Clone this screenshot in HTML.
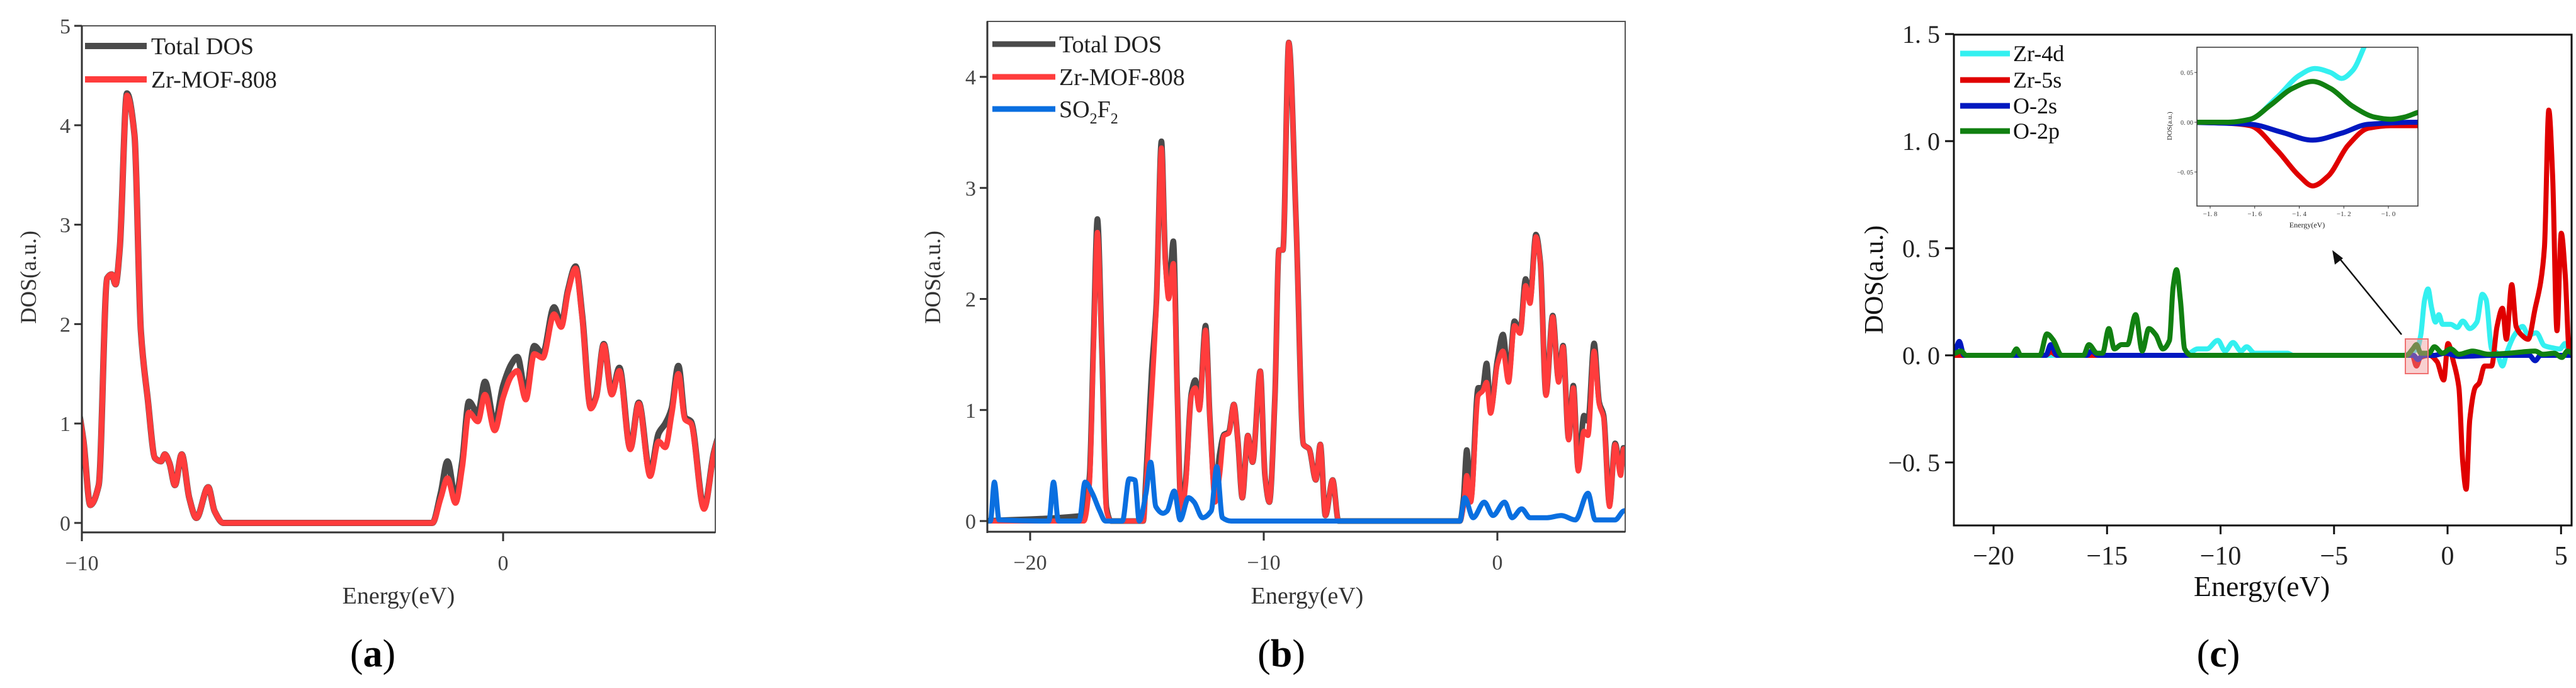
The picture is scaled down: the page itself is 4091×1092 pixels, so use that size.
<!DOCTYPE html>
<html><head><meta charset="utf-8"><style>
html,body{margin:0;padding:0;background:#fff;}
svg{display:block;font-family:"Liberation Serif",serif;}
</style></head><body>
<svg id="fig" width="4091" height="1092" viewBox="0 0 4091 1092" xmlns="http://www.w3.org/2000/svg"></svg>
<script>
// ---------- Panel (a) data ----------
const aEnergy=[-10.1,-9.96,-9.8,-9.6,-9.4,-9.29,-9.2,-9.1,-8.93,-8.75,-8.6,-8.44,-8.26,-8.12,-8.03,-7.92,-7.79,-7.63,-7.45,-7.28,-7.0,-6.85,-6.64,-4,-1.68,-1.48,-1.32,-1.13,-0.97,-0.81,-0.6,-0.43,-0.2,0,0.2,0.34,0.54,0.74,0.94,1.21,1.38,1.54,1.72,1.88,2.08,2.21,2.39,2.58,2.76,3.02,3.22,3.49,3.69,3.85,4.0,4.16,4.32,4.46,4.77,5.0,5.2];
const aZr=[1.2,0.82,0.18,0.38,2.46,2.5,2.4,2.76,4.3,3.9,1.93,1.26,0.65,0.62,0.69,0.6,0.38,0.69,0.25,0.05,0.36,0.12,0,0,0,0.25,0.45,0.2,0.56,1.11,1.02,1.29,0.93,1.26,1.48,1.53,1.24,1.7,1.66,2.1,1.97,2.32,2.56,2.06,1.15,1.26,1.79,1.29,1.53,0.74,1.2,0.47,0.82,0.76,1.09,1.5,1.04,1.0,0.14,0.69,1.0];
const aTotal=[1.2,0.82,0.18,0.38,2.46,2.5,2.4,2.76,4.32,3.9,1.93,1.26,0.65,0.62,0.69,0.6,0.38,0.69,0.25,0.05,0.36,0.12,0,0,0,0.3,0.62,0.25,0.62,1.22,1.1,1.42,1.0,1.38,1.6,1.67,1.3,1.78,1.7,2.17,2.0,2.34,2.58,2.08,1.16,1.27,1.8,1.3,1.56,0.75,1.21,0.5,0.9,1.0,1.15,1.58,1.06,1.02,0.15,0.7,1.0];
const aXTicks=[-10,0];
const aYTicks=[0,1,2,3,4,5];
// ---------- Panel (b) data ----------
const bEnergy=[-22,-17.7,-17.46,-17.29,-17.12,-16.93,-16.73,-16.54,-15.16,-15.04,-14.8,-14.6,-14.38,-14.21,-14.07,-13.87,-13.7,-13.53,-13.34,-13.1,-12.93,-12.76,-12.49,-12.3,-12.08,-11.89,-11.7,-11.5,-11.28,-11.11,-10.92,-10.68,-10.48,-10.15,-9.95,-9.76,-9.52,-9.35,-9.18,-8.93,-8.62,-8.3,-8.06,-7.77,-7.58,-7.36,-7.05,-6.8,-4,-1.6,-1.45,-1.31,-1.14,-0.82,-0.63,-0.46,-0.29,0,0.24,0.48,0.73,0.97,1.21,1.4,1.65,1.84,2.08,2.37,2.62,2.81,3.05,3.25,3.46,3.71,3.88,4.14,4.36,4.55,4.8,5.04,5.28,5.4,5.6];
const bZr=[0,0,0.33,1.53,2.6,1.53,0.09,0,0,0.33,1.13,1.92,3.36,2.32,2.0,2.32,1.13,0.05,0.33,1.13,1.2,1.0,1.72,0.89,0.17,0.41,0.77,0.79,1.05,0.73,0.21,0.77,0.53,1.35,0.41,0.17,1.13,2.44,2.44,4.31,2.72,0.69,0.65,0.37,0.69,0.05,0.37,0,0,0,0.13,0.41,0.17,1.13,1.17,1.25,0.97,1.41,1.53,1.25,1.76,1.69,2.12,1.96,2.56,2.32,1.13,1.84,1.25,1.57,0.73,1.2,0.45,0.81,0.77,1.53,1.05,0.93,0.13,0.69,0.41,0.65,0.6];
const bTotal=[0,0.05,0.4,1.6,2.72,1.55,0.12,0,0,0.4,1.35,1.95,3.42,2.35,2.05,2.52,1.15,0.08,0.38,1.15,1.27,1.02,1.76,0.9,0.25,0.6,0.78,0.8,1.05,0.73,0.21,0.77,0.53,1.35,0.41,0.17,1.13,2.44,2.44,4.31,2.72,0.69,0.65,0.37,0.69,0.05,0.37,0,0,0,0.2,0.64,0.2,1.2,1.2,1.42,1.0,1.45,1.68,1.3,1.8,1.7,2.18,2.0,2.58,2.33,1.14,1.85,1.27,1.58,0.74,1.22,0.47,0.95,0.9,1.6,1.07,0.95,0.15,0.7,0.45,0.66,0.6];
const bSoEnergy=[-22,-21.7,-21.53,-21.33,-19.2,-19.0,-18.79,-17.9,-17.65,-17.34,-17.02,-16.78,-16.05,-15.76,-15.52,-15.33,-15.04,-14.84,-14.62,-14.31,-14.14,-13.83,-13.58,-13.22,-12.98,-12.62,-12.25,-12.01,-11.77,-11.4,-4,-1.6,-1.4,-1.04,-0.56,-0.19,0.31,0.63,1.04,1.4,2.13,2.74,3.34,3.88,4.19,5.04,5.4,5.6];
const bSo=[0,0,0.35,0.01,0,0.35,0,0,0.35,0.25,0.09,0,0,0.38,0.37,0,0.25,0.53,0.13,0.07,0.09,0.27,0.01,0.21,0.17,0.03,0.09,0.49,0.03,0,0,0,0.21,0.03,0.17,0.05,0.17,0.03,0.11,0.03,0.03,0.05,0.01,0.25,0.01,0.01,0.09,0.1];
const bXTicks=[-20,-10,0];
const bYTicks=[0,1,2,3,4];
// ---------- Panel (c) data ----------
const cO2pE=[-22,-21.68,-21.44,-21.2,-19.2,-18.99,-18.8,-17.96,-17.65,-17.36,-17.0,-16.04,-15.8,-15.44,-15.2,-14.92,-14.68,-14.36,-14.1,-13.74,-13.45,-13.16,-12.85,-12.54,-12.25,-12.09,-11.94,-11.77,-11.58,-11.3,-5,-1.82,-1.53,-1.37,-1.18,-0.82,-0.58,-0.22,0.14,0.5,1.1,1.8,2.7,3.86,4.2,4.7,5.04,5.28,5.6];
const cO2p=[0,0.01,0.02,0,0,0.03,0,0,0.1,0.07,0,0,0.05,0.01,0.01,0.125,0.03,0.05,0.05,0.19,0.02,0.125,0.095,0.03,0.07,0.32,0.4,0.26,0.03,0,0,0,0.03,0.05,0.01,0.01,0.04,0.01,0.03,0.005,0.02,0.005,0.01,0.02,0.005,0.01,-0.01,0.02,0.0];
const cZr4dE=[-22,-11.6,-11.37,-11.0,-10.6,-10.12,-9.8,-9.45,-9.1,-8.85,-8.5,-8.0,-7.5,-7.05,-6.8,-2,-1.34,-1.18,-1.01,-0.86,-0.7,-0.53,-0.38,-0.22,0.14,0.43,0.67,0.98,1.29,1.53,1.7,1.94,2.18,2.42,2.6,2.95,3.31,3.55,3.91,4.27,4.63,4.95,5.18,5.37,5.6];
const cZr4d=[0,0,0.01,0.03,0.03,0.07,0.02,0.06,0.02,0.04,0.01,0.01,0.01,0.01,0,0,0.03,0.095,0.26,0.31,0.22,0.155,0.19,0.145,0.145,0.13,0.16,0.125,0.155,0.285,0.26,0.03,0.01,-0.05,0.01,0.095,0.135,0.095,0.105,0.045,0.035,0.03,0.055,0.01,0.01];
const cZr5sE=[-22,-17.7,-17.48,-17.2,-2,-1.55,-1.37,-1.2,-0.8,-0.46,-0.17,0.02,0.26,0.5,0.67,0.82,0.98,1.22,1.39,1.63,1.94,2.18,2.42,2.59,2.83,3.02,3.26,3.55,3.86,4.1,4.27,4.46,4.63,4.82,5.01,5.18,5.37,5.6];
const cZr5s=[0,0,0.016,0,0,0,-0.05,-0.01,0,-0.03,-0.115,0.055,-0.03,-0.15,-0.5,-0.625,-0.3,-0.15,-0.13,-0.05,-0.05,0.135,0.22,0.075,0.33,0.135,0.095,0.075,0.22,0.34,0.505,1.145,0.835,0.115,0.57,0.385,0.01,0];
const cO2sE=[-22,-21.68,-21.51,-21.3,-17.7,-17.48,-17.2,-15.9,-15.68,-15.4,-2,-1.5,-1.3,-1.1,-0.6,-0.1,0.5,2,3.6,3.86,4.1,5.6];
const cO2s=[0.02,0.03,0.065,0,0,0.05,0,0,0.02,0,0,0,-0.02,0,0,0.01,-0.005,0,0,-0.025,0,0];
const cXTicks=[-20,-15,-10,-5,0,5];
const cYTicks=[-0.5,0,0.5,1.0,1.5];
// ---------- Inset data ----------
const iZr4dE=[-1.9,-1.72,-1.62,-1.5,-1.4,-1.33,-1.26,-1.21,-1.16,-1.11,-1.05];
const iZr4d=[0,0,0.003,0.025,0.047,0.054,0.05,0.044,0.052,0.075,0.11];
const iO2pE=[-1.9,-1.72,-1.62,-1.53,-1.43,-1.34,-1.26,-1.16,-1.06,-0.99,-0.93,-0.87,-0.84];
const iO2p=[0,0,0.003,0.017,0.034,0.041,0.034,0.016,0.005,0.003,0.005,0.0097,0.012];
const iO2sE=[-1.9,-1.62,-1.48,-1.34,-1.21,-1.09,-0.87,-0.84];
const iO2s=[0,-0.002,-0.01,-0.018,-0.011,-0.002,0,0];
const iZr5sE=[-1.9,-1.72,-1.62,-1.5,-1.4,-1.34,-1.27,-1.18,-1.09,-0.99,-0.87,-0.84];
const iZr5s=[0,-0.001,-0.0035,-0.028,-0.054,-0.064,-0.054,-0.023,-0.006,-0.0035,-0.0035,-0.0035];
const iXTicks=[-1.8,-1.6,-1.4,-1.2,-1.0];
const iYTicks=[-0.05,0,0.05];

const NS='http://www.w3.org/2000/svg';
const svg=document.getElementById('fig');
function mk(tag,attrs,parent){const e=document.createElementNS(NS,tag);for(const k in attrs)e.setAttribute(k,attrs[k]);(parent||svg).appendChild(e);return e;}
function scale(d0,d1,r0,r1){return v=>r0+(v-d0)*(r1-r0)/(d1-d0);}
// monotone cubic (Fritsch-Carlson) – no overshoot
function smoothPath(xs,ys,sx,sy){
  const X=xs.map(sx),Y=ys.map(sy),n=X.length;
  const d=[],m=[];
  for(let i=0;i<n-1;i++)d.push((Y[i+1]-Y[i])/(X[i+1]-X[i]));
  m[0]=d[0];m[n-1]=d[n-2];
  for(let i=1;i<n-1;i++){ if(d[i-1]*d[i]<=0)m[i]=0; else m[i]=2/(1/d[i-1]+1/d[i]); }
  let p='M'+X[0].toFixed(1)+','+Y[0].toFixed(1);
  for(let i=0;i<n-1;i++){
    const h=(X[i+1]-X[i])/3;
    p+=' C'+(X[i]+h).toFixed(1)+','+(Y[i]+m[i]*h).toFixed(1)+' '+(X[i+1]-h).toFixed(1)+','+(Y[i+1]-m[i+1]*h).toFixed(1)+' '+X[i+1].toFixed(1)+','+Y[i+1].toFixed(1);
  }
  return p;
}
let clipN=0;
function clip(x,y,w,h){const id='clip'+(clipN++);const cp=mk('clipPath',{id:id});mk('rect',{x:x,y:y,width:w,height:h},cp);return id;}

// ===== Panel (a) =====
(function(){
  const L=130,R=1136,T=41,B=845;
  const sx=scale(-10,0,130,799), sy=scale(0,5,830,41);
  const g=mk('g',{});
  
  
  const cid=clip(L,T,R-L,B-T);
  const cg=mk('g',{'clip-path':'url(#'+cid+')'},g);
  const t=mk('path',{d:smoothPath(aEnergy,aTotal,sx,sy),fill:'none',stroke:'#4a4a4a','stroke-width':10,'stroke-linejoin':'round'},cg);
  
  
  const r=mk('path',{d:smoothPath(aEnergy,aZr,sx,sy),fill:'none',stroke:'#ff3c3c','stroke-width':9,'stroke-linejoin':'round'},cg);
  
  
  mk('rect',{x:L,y:T,width:R-L,height:B-T,fill:'none',stroke:'#555','stroke-width':2},g);
  mk('line',{x1:L,y1:T,x2:L,y2:B+2,stroke:'#333','stroke-width':3},g);
  mk('line',{x1:L-1,y1:B,x2:R,y2:B,stroke:'#333','stroke-width':3},g);
  aXTicks.forEach(v=>{const x=sx(v);mk('line',{x1:x,y1:B,x2:x,y2:B+14,stroke:'#333','stroke-width':3},g);
    const tx=mk('text',{x:x,y:B+60,'text-anchor':'middle','font-size':34,fill:'#444'},g);tx.textContent=v<0?'\u2212'+(-v):String(v);
    });
  aYTicks.forEach(v=>{const y=sy(v);mk('line',{x1:L-12,y1:y,x2:L,y2:y,stroke:'#333','stroke-width':3},g);
    const tx=mk('text',{x:L-18,y:y+12,'text-anchor':'end','font-size':34,fill:'#444'},g);tx.textContent=String(v);
    });
  const xl=mk('text',{x:633,y:958,'text-anchor':'middle','font-size':38,fill:'#333'},g);xl.textContent='Energy(eV)';
  
  const yl=mk('text',{x:0,y:0,'text-anchor':'middle','font-size':36,fill:'#333',transform:'translate(57,440) rotate(-90)'},g);yl.textContent='DOS(a.u.)';
  
  [['Total DOS','#4a4a4a',73],['Zr-MOF-808','#ff3c3c',126]].forEach(([lab,col,y])=>{
    const le=mk('g',{},g);
    mk('line',{x1:135,y1:y,x2:233,y2:y,stroke:col,'stroke-width':10},le);
    const tx=mk('text',{x:240,y:y+13,'font-size':38,fill:'#222'},le);tx.textContent=lab;});
  const cap=mk('text',{x:592,y:1058,'text-anchor':'middle','font-size':62,fill:'#000'},g);
  cap.innerHTML='(<tspan font-weight="bold">a</tspan>)';
  
})();

// ===== Panel (b) =====
(function(){
  const L=1568,R=2581,T=34,B=844;
  const sx=scale(-20,0,1636,2378), sy=scale(0,4,827,122);
  const g=mk('g',{});
  
  
  const cid=clip(L,T,R-L,B-T);
  const cg=mk('g',{'clip-path':'url(#'+cid+')'},g);
  const t=mk('path',{d:smoothPath(bEnergy,bTotal,sx,sy),fill:'none',stroke:'#4a4a4a','stroke-width':9,'stroke-linejoin':'round'},cg);
  
  
  const r=mk('path',{d:smoothPath(bEnergy,bZr,sx,sy),fill:'none',stroke:'#ff3c3c','stroke-width':8,'stroke-linejoin':'round'},cg);
  
  
  const bl=mk('path',{d:smoothPath(bSoEnergy,bSo,sx,sy),fill:'none',stroke:'#0a6fe0','stroke-width':8,'stroke-linejoin':'round'},cg);
  
  
  mk('rect',{x:L,y:T,width:R-L,height:B-T,fill:'none',stroke:'#555','stroke-width':2},g);
  mk('line',{x1:L,y1:T,x2:L,y2:B+2,stroke:'#333','stroke-width':3},g);
  mk('line',{x1:L-1,y1:B,x2:R,y2:B,stroke:'#333','stroke-width':3},g);
  bXTicks.forEach(v=>{const x=sx(v);mk('line',{x1:x,y1:B,x2:x,y2:B+14,stroke:'#333','stroke-width':3},g);
    const tx=mk('text',{x:x,y:B+60,'text-anchor':'middle','font-size':34,fill:'#444'},g);tx.textContent=v<0?'\u2212'+(-v):String(v);
    });
  bYTicks.forEach(v=>{const y=sy(v);mk('line',{x1:L-12,y1:y,x2:L,y2:y,stroke:'#333','stroke-width':3},g);
    const tx=mk('text',{x:L-18,y:y+12,'text-anchor':'end','font-size':34,fill:'#444'},g);tx.textContent=String(v);
    });
  const xl=mk('text',{x:2076,y:958,'text-anchor':'middle','font-size':38,fill:'#333'},g);xl.textContent='Energy(eV)';
  
  const yl=mk('text',{x:0,y:0,'text-anchor':'middle','font-size':36,fill:'#333',transform:'translate(1493,440) rotate(-90)'},g);yl.textContent='DOS(a.u.)';
  
  [['Total DOS','#4a4a4a',70],['Zr-MOF-808','#ff3c3c',122],['SO2F2','#0a6fe0',173]].forEach(([lab,col,y])=>{
    const le=mk('g',{},g);
    mk('line',{x1:1576,y1:y,x2:1676,y2:y,stroke:col,'stroke-width':9},le);
    const tx=mk('text',{x:1682,y:y+13,'font-size':38,fill:'#222'},le);
    if(lab==='SO2F2'){tx.innerHTML='SO<tspan font-size="24" dy="10">2</tspan><tspan dy="-10">F</tspan><tspan font-size="24" dy="10">2</tspan>';}
    else tx.textContent=lab;});
  const cap=mk('text',{x:2035,y:1058,'text-anchor':'middle','font-size':62,fill:'#000'},g);
  cap.innerHTML='(<tspan font-weight="bold">b</tspan>)';
  
})();

// ===== Panel (c) =====
(function(){
  const L=3103,R=4084,T=55,B=834;
  const sx=scale(-20,0,3166,3887), sy=scale(0,0.5,564,394);
  const g=mk('g',{});
  
  
  const cid=clip(L,T,R-L,B-T);
  const cg=mk('g',{'clip-path':'url(#'+cid+')'},g);
  const series=[[cZr4dE,cZr4d,'#33f0f0','zr-4d-line'],[cZr5sE,cZr5s,'#e00000','zr-5s-line'],[cO2sE,cO2s,'#0018c0','o-2s-line'],[cO2pE,cO2p,'#118011','o-2p-line']];
  series.forEach(([xs,ys,col,nm])=>{
    const p=mk('path',{d:smoothPath(xs,ys,sx,sy),fill:'none',stroke:col,'stroke-width':8,'stroke-linejoin':'round'},cg);
    
    });
  mk('rect',{x:L,y:T,width:R-L,height:B-T,fill:'none',stroke:'#111','stroke-width':3},g);
  cXTicks.forEach(v=>{const x=sx(v);mk('line',{x1:x,y1:B,x2:x,y2:B+14,stroke:'#111','stroke-width':3},g);
    const tx=mk('text',{x:x,y:B+62,'text-anchor':'middle','font-size':42,fill:'#222'},g);tx.textContent=v<0?'\u2212'+(-v):String(v);
    });
  cYTicks.forEach(v=>{const y=sy(v);mk('line',{x1:L-14,y1:y,x2:L,y2:y,stroke:'#111','stroke-width':3},g);
    const s=(v<0?'\u2212':'')+Math.abs(v).toFixed(1).replace('.','. ');
    const tx=mk('text',{x:L-22,y:y+14,'text-anchor':'end','font-size':40,fill:'#222'},g);tx.textContent=s;
    });
  const xl=mk('text',{x:3592,y:946,'text-anchor':'middle','font-size':46,fill:'#111'},g);xl.textContent='Energy(eV)';
  
  const yl=mk('text',{x:0,y:0,'text-anchor':'middle','font-size':42,fill:'#111',transform:'translate(2990,444) rotate(-90)'},g);yl.textContent='DOS(a.u.)';
  
  [['Zr-4d','#33f0f0',85],['Zr-5s','#e00000',127],['O-2s','#0018c0',168],['O-2p','#118011',208]].forEach(([lab,col,y])=>{
    const le=mk('g',{},g);
    mk('line',{x1:3113,y1:y,x2:3192,y2:y,stroke:col,'stroke-width':9},le);
    const tx=mk('text',{x:3197,y:y+12,'font-size':36,fill:'#111'},le);tx.textContent=lab;});
  const hb=mk('rect',{x:3820,y:538,width:36,height:55,fill:'rgba(240,150,150,0.45)',stroke:'#f07070','stroke-width':2},g);
  
  const ar=mk('g',{},g);
  mk('line',{x1:3814,y1:531,x2:3712,y2:406,stroke:'#111','stroke-width':2.5},ar);
  mk('polygon',{points:'3704,397 3708,420 3721,410',fill:'#111'},ar);
  const IL=3489,IR=3840,IT=75,IB=327;
  const ix=scale(-1.8,-1.0,3510,3793), iy=scale(0,0.05,194,115);
  const ig=mk('g',{},g);
  mk('rect',{x:IL,y:IT,width:IR-IL,height:IB-IT,fill:'#fff'},ig);
  const icid=clip(IL,IT,IR-IL,IB-IT);
  const icg=mk('g',{'clip-path':'url(#'+icid+')'},ig);
  [[iZr4dE,iZr4d,'#33f0f0','inset-zr-4d-line'],[iZr5sE,iZr5s,'#e00000','inset-zr-5s-line'],[iO2sE,iO2s,'#0018c0','inset-o-2s-line'],[iO2pE,iO2p,'#118011','inset-o-2p-line']].forEach(([xs,ys,col,nm])=>{
    const p=mk('path',{d:smoothPath(xs,ys,ix,iy),fill:'none',stroke:col,'stroke-width':8,'stroke-linejoin':'round'},icg);
    
    });
  mk('rect',{x:IL,y:IT,width:IR-IL,height:IB-IT,fill:'none',stroke:'#333','stroke-width':1.5},ig);
  iXTicks.forEach(v=>{const x=ix(v);mk('line',{x1:x,y1:IB,x2:x,y2:IB+4,stroke:'#333','stroke-width':1},ig);
    const tx=mk('text',{x:x,y:IB+16,'text-anchor':'middle','font-size':11,fill:'#333'},ig);tx.textContent='\u2212'+Math.abs(v).toFixed(1).replace('.','. ');
    });
  iYTicks.forEach(v=>{const y=iy(v);mk('line',{x1:IL-4,y1:y,x2:IL,y2:y,stroke:'#333','stroke-width':1},ig);
    const tx=mk('text',{x:IL-6,y:y+4,'text-anchor':'end','font-size':10,fill:'#333'},ig);tx.textContent=(v<0?'\u2212':'')+Math.abs(v).toFixed(2).replace('.','. ');
    });
  const ixl=mk('text',{x:3664,y:361,'text-anchor':'middle','font-size':12,fill:'#222'},ig);ixl.textContent='Energy(eV)';
  
  const iyl=mk('text',{x:0,y:0,'text-anchor':'middle','font-size':11,fill:'#222',transform:'translate(3449,200) rotate(-90)'},ig);iyl.textContent='DOS(a.u.)';
  
  const cap=mk('text',{x:3523,y:1058,'text-anchor':'middle','font-size':62,fill:'#000'},g);
  cap.innerHTML='(<tspan font-weight="bold">c</tspan>)';
  
})();
</script>
</body></html>
